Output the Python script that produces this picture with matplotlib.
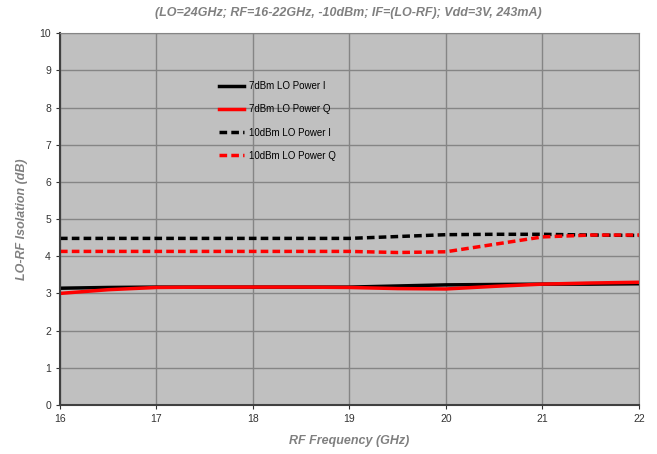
import matplotlib
matplotlib.use("Agg")
import matplotlib.pyplot as plt
import numpy as np

plt.rcParams['font.family'] = ['Liberation Sans', 'DejaVu Sans']

freq = [16, 16.5, 17, 17.5, 18, 18.5, 19, 19.5, 20, 20.5, 21, 21.5, 22]
lo7_i = [3.14, 3.16, 3.17, 3.17, 3.17, 3.17, 3.17, 3.20, 3.23, 3.24, 3.25, 3.25, 3.26]
lo7_q = [3.00, 3.10, 3.16, 3.17, 3.17, 3.17, 3.16, 3.13, 3.12, 3.19, 3.25, 3.28, 3.30]
lo10_i = [4.48, 4.48, 4.48, 4.48, 4.48, 4.48, 4.48, 4.53, 4.58, 4.59, 4.59, 4.57, 4.56]
lo10_q = [4.13, 4.13, 4.13, 4.13, 4.13, 4.13, 4.13, 4.10, 4.12, 4.32, 4.52, 4.57, 4.57]
labels = ["7dBm LO Power I", "7dBm LO Power Q", "10dBm LO Power I", "10dBm LO Power Q"]

fig = plt.figure(figsize=(6.57, 4.54), dpi=100)
ax = fig.add_axes([0.0913, 0.108, 0.8813, 0.819])
ax.set_facecolor('#C0C0C0')

ax.plot(freq, lo7_i, color='black', lw=2.5, label=labels[0])
ax.plot(freq, lo7_q, color='red', lw=2.5, label=labels[1])
ax.plot(freq, lo10_i, color='black', lw=2.5, ls=(0, (2.2, 1.2)), label=labels[2])
ax.plot(freq, lo10_q, color='red', lw=2.5, ls=(0, (2.2, 1.2)), label=labels[3])

ax.set_xlim(16, 22)
ax.set_ylim(0, 10)
ax.set_xticks(range(16, 23))
ax.set_yticks(range(0, 11))
ax.grid(True, color='#858585', lw=1)
ax.set_axisbelow(True)
for s in ['top', 'right']:
    ax.spines[s].set_color('#858585')
for s in ['left', 'bottom']:
    ax.spines[s].set_color('#404040')
    ax.spines[s].set_linewidth(1.5)
ax.tick_params(labelsize=7.5, colors='#333333', length=3)

ax.set_xlabel('RF Frequency (GHz)', fontsize=9, color='#808080', style='italic', fontweight='bold', labelpad=8)
ax.set_ylabel('LO-RF Isolation (dB)', fontsize=9, color='#808080', style='italic', fontweight='bold', labelpad=8)
fig.text(0.53, 0.972, '(LO=24GHz; RF=16-22GHz, -10dBm; IF=(LO-RF); Vdd=3V, 243mA)',
         ha='center', va='center', fontsize=9, color='#808080', style='italic', fontweight='bold')

leg = ax.legend(loc='upper left', bbox_to_anchor=(0.259, 0.895), frameon=False, fontsize=7,
                handlelength=2.6, labelspacing=1.37, handletextpad=0.5)

fig.savefig('out.png', dpi=100)
